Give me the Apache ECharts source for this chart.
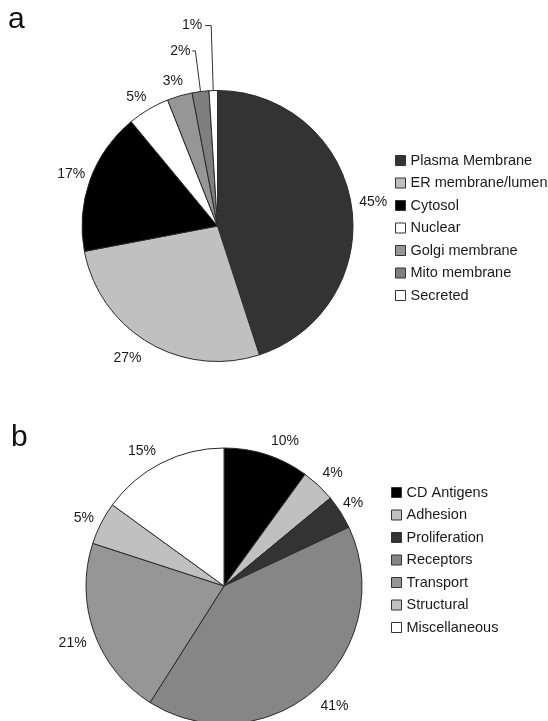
<!DOCTYPE html>
<html>
<head>
<meta charset="utf-8">
<script src="https://cdn.jsdelivr.net/npm/echarts@6/dist/echarts.min.js"></script>
<style>
  html, body { margin: 0; padding: 0; background: #fff; }
  #chart { width: 548px; height: 721px; }
</style>
</head>
<body>
<div id="chart"></div>
<script>
// a. subcellular location
var locNames = ['Plasma Membrane', 'ER membrane/lumen', 'Cytosol', 'Nuclear', 'Golgi membrane', 'Mito membrane', 'Secreted'];
var locValues = [45, 27, 17, 5, 3, 2, 1];

// b. functional class
var funcNames = ['CD Antigens', 'Adhesion', 'Proliferation', 'Receptors', 'Transport', 'Structural', 'Miscellaneous'];
var funcValues = [10, 4, 4, 41, 21, 5, 15];

var locColors = ['#333333', '#c0c0c0', '#000000', '#ffffff', '#969696', '#7f7f7f', '#ffffff'];
var funcColors = ['#000000', '#c0c0c0', '#333333', '#868686', '#969696', '#c0c0c0', '#ffffff'];

// label tweaks per slice: [length, length2, distance, vertical nudge, show line]
var locLabelPos = [
  [4, 0, 4, -2, 0],
  [12, 0, 1, 5.5, 0],
  [3, 0, 2, -5, 0],
  [3, 0, 0.5, -10, 0],
  [6, 0, -5, -9, 0],
  [41, 3, 2, 0, 1],
  [65, 6, 3, 0, 1]
];
var funcLabelPos = [
  [14, 0, 0, 0, 0],
  [6, 0, 0, -8, 0],
  [3, 0, 0, -7, 0],
  [8, 0, 0, 11, 0],
  [8, 0, 0, 8, 0],
  [8, 0, 0, -2, 0],
  [12, 0, 0, -1, 0]
];

function buildData(names, values, colors, pos) {
  return names.map(function (n, i) {
    var p = pos[i];
    return {
      name: n,
      value: values[i],
      itemStyle: { color: colors[i] },
      label: { distanceToLabelLine: p[2] },
      labelLine: { show: !!p[4], length: p[0], length2: p[1] }
    };
  });
}

function pieSeries(center, radius, names, values, colors, pos) {
  return {
    type: 'pie',
    center: center,
    radius: radius,
    startAngle: 90,
    clockwise: true,
    avoidLabelOverlap: false,
    silent: true,
    itemStyle: { borderColor: '#2a2a2a', borderWidth: 1 },
    label: {
      show: true,
      position: 'outside',
      formatter: '{c}%',
      color: '#1a1a1a',
      fontFamily: 'Liberation Sans',
      fontSize: 14
    },
    labelLine: { lineStyle: { color: '#333', width: 1 } },
    labelLayout: function (params) {
      var nudge = pos[params.dataIndex][3];
      return nudge ? { dy: nudge } : null;
    },
    emphasis: { disabled: true },
    data: buildData(names, values, colors, pos)
  };
}

var legendBase = {
  orient: 'vertical',
  icon: 'rect',
  itemWidth: 10,
  itemHeight: 10,
  itemGap: 7.5,
  selectedMode: false,
  itemStyle: { borderColor: '#333', borderWidth: 1 },
  textStyle: { color: '#1a1a1a', fontFamily: 'Liberation Sans', fontSize: 14.5, lineHeight: 15 },
  padding: 0
};

var myChart = echarts.init(document.getElementById('chart'));

var option = {
  backgroundColor: '#fff',
  animation: false,
  title: [
    { text: 'a', left: 8, top: 5, padding: 0, textStyle: { fontFamily: 'Liberation Sans', fontSize: 30, fontWeight: 'normal', color: '#111' } },
    { text: 'b', left: 11, top: 423, padding: 0, textStyle: { fontFamily: 'Liberation Sans', fontSize: 30, fontWeight: 'normal', color: '#111' } }
  ],
  legend: [
    Object.assign({}, legendBase, { left: 395, top: 153, data: locNames }),
    Object.assign({}, legendBase, { left: 391, top: 485, data: funcNames })
  ],
  series: [
    pieSeries([217.5, 226], 135.5, locNames, locValues, locColors, locLabelPos),
    pieSeries([224, 586], 138, funcNames, funcValues, funcColors, funcLabelPos)
  ]
};

myChart.setOption(option);
</script>
</body>
</html>
